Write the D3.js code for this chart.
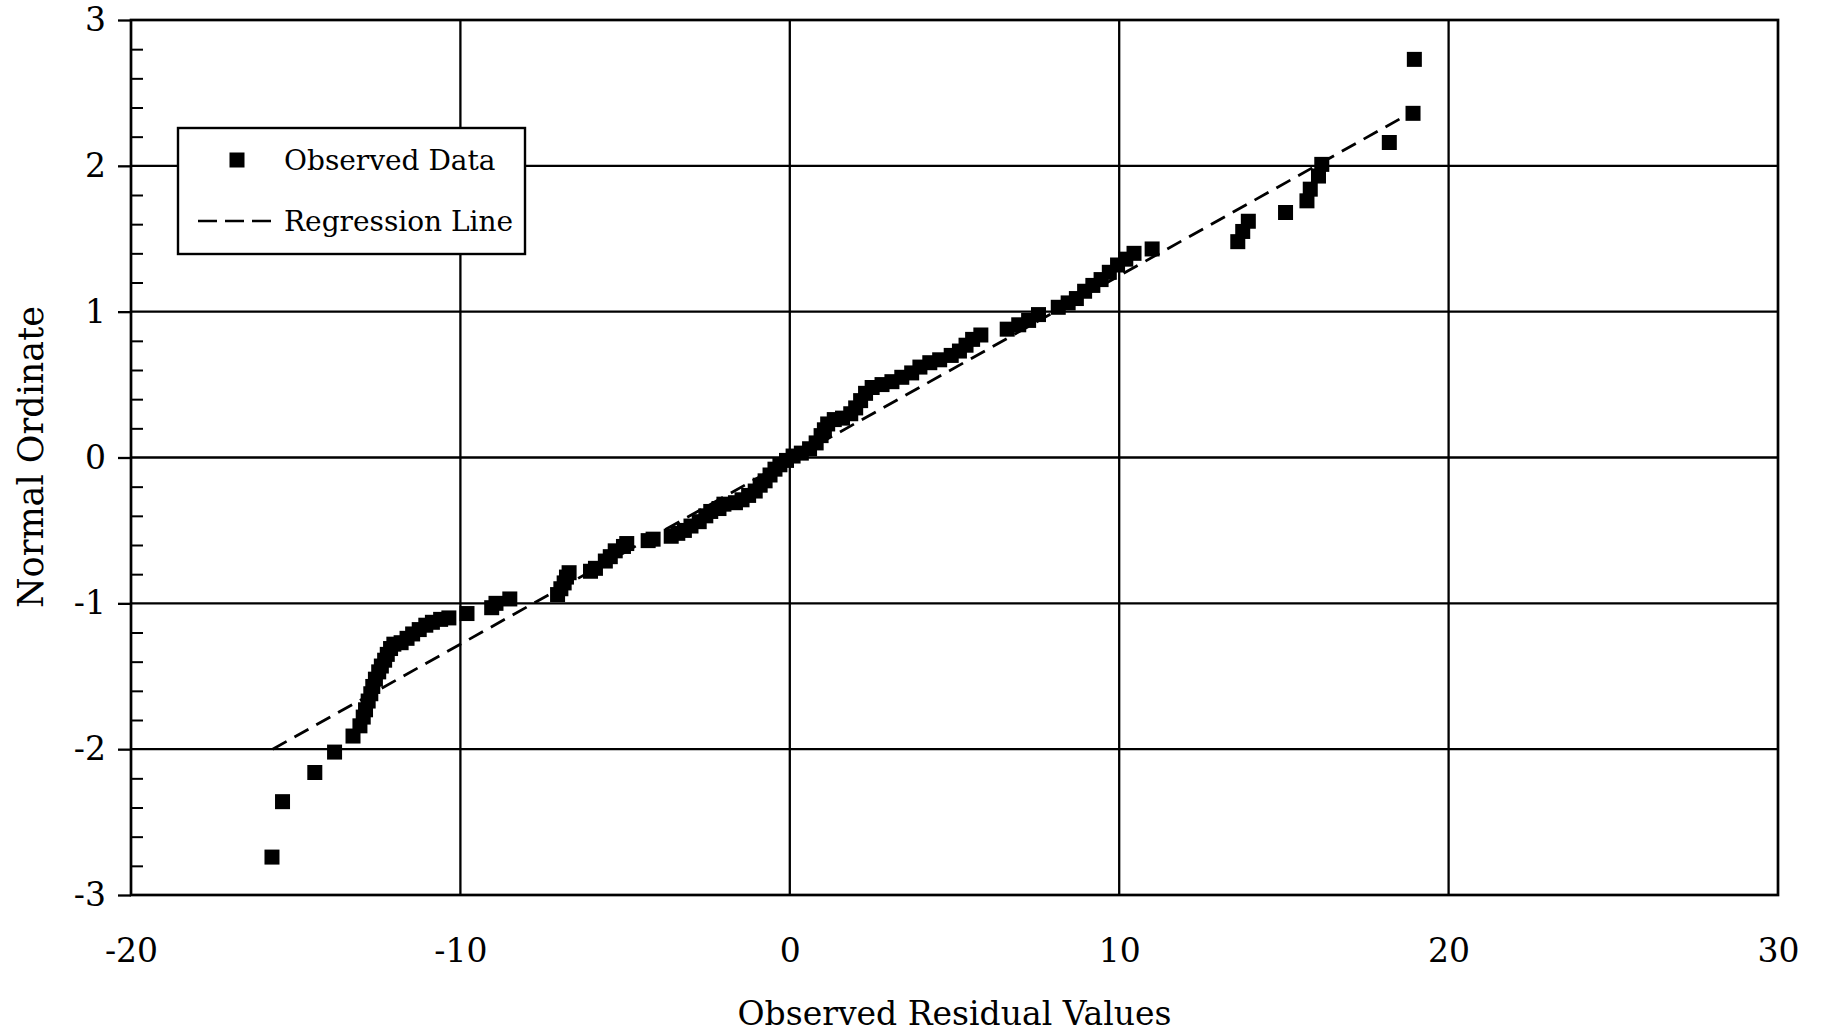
<!DOCTYPE html>
<html><head><meta charset="utf-8">
<script src="https://cdn.jsdelivr.net/npm/d3@7"></script>
<style>body{margin:0;background:#fff}svg{display:block}text{font-family:"DejaVu Serif",serif;fill:#000}</style>
</head><body>
<script>
const obsX = [-15.72,-15.40,-14.42,-13.82,-13.26,-13.05,-12.95,-12.88,-12.80,-12.72,-12.66,-12.58,-12.48,-12.40,-12.30,-12.22,-12.12,-12.02,-11.80,-11.62,-11.45,-11.25,-11.05,-10.85,-10.60,-10.35,-9.80,-9.05,-8.92,-8.50,-7.05,-6.95,-6.85,-6.78,-6.70,-6.05,-5.90,-5.60,-5.45,-5.30,-5.05,-4.95,-4.30,-4.15,-3.60,-3.40,-3.20,-3.00,-2.75,-2.55,-2.40,-2.15,-2.00,-1.65,-1.45,-1.25,-1.05,-0.90,-0.75,-0.60,-0.45,-0.30,-0.10,0.10,0.35,0.60,0.80,0.95,1.05,1.15,1.35,1.60,1.85,2.00,2.15,2.30,2.50,2.80,3.10,3.40,3.70,3.95,4.25,4.55,4.90,5.15,5.35,5.55,5.80,6.60,6.95,7.25,7.55,8.15,8.45,8.70,8.95,9.20,9.45,9.70,9.95,10.20,10.45,11.00,13.60,13.75,13.92,15.05,15.70,15.80,16.05,16.15,18.20,18.92,18.96];
const obsY = [-2.74,-2.36,-2.16,-2.02,-1.91,-1.84,-1.78,-1.73,-1.67,-1.62,-1.57,-1.52,-1.47,-1.43,-1.39,-1.35,-1.31,-1.28,-1.27,-1.24,-1.21,-1.18,-1.15,-1.13,-1.11,-1.10,-1.07,-1.03,-1.00,-0.97,-0.94,-0.90,-0.86,-0.82,-0.79,-0.78,-0.76,-0.71,-0.68,-0.64,-0.61,-0.59,-0.57,-0.56,-0.54,-0.52,-0.50,-0.47,-0.44,-0.40,-0.37,-0.35,-0.32,-0.31,-0.29,-0.26,-0.23,-0.19,-0.16,-0.12,-0.08,-0.05,-0.02,0.01,0.03,0.06,0.10,0.15,0.19,0.23,0.26,0.27,0.30,0.34,0.39,0.44,0.48,0.50,0.52,0.55,0.58,0.62,0.65,0.67,0.70,0.73,0.77,0.81,0.84,0.88,0.91,0.94,0.98,1.03,1.06,1.09,1.14,1.18,1.22,1.27,1.32,1.36,1.40,1.43,1.48,1.55,1.62,1.68,1.76,1.84,1.93,2.01,2.16,2.36,2.73];
const regX = [-15.7, 18.9];
const regY = [-2.0, 2.37];
const xTicks = [-20,-10,0,10,20,30];
const yTicks = [-3,-2,-1,0,1,2,3];
const yMinor = [-2.8,-2.6,-2.4,-2.2,-1.8,-1.6,-1.4,-1.2,-0.8,-0.6,-0.4,-0.2,0.2,0.4,0.6,0.8,1.2,1.4,1.6,1.8,2.2,2.4,2.6,2.8];
const legendLabels = ["Observed Data","Regression Line"];
const xTitle = "Observed Residual Values";
const yTitle = "Normal Ordinate";

const W=1822,H=1035, L=131,R=1778,T=20,B=895;
const svg=d3.select("body").append("svg").attr("width",W).attr("height",H);
const x=d3.scaleLinear().domain([-20,30]).range([L,R]);
const y=d3.scaleLinear().domain([-3,3]).range([B,T]);
const fmt=d=>String(d);

// grid
const g=svg.append("g");
g.selectAll(".vg").data(xTicks.slice(1,-1)).join("line")
 .attr("x1",d=>x(d)).attr("x2",d=>x(d)).attr("y1",T).attr("y2",B).attr("stroke","#000").attr("stroke-width",2.3);
g.selectAll(".hg").data(yTicks.slice(1,-1)).join("line")
 .attr("x1",L).attr("x2",R).attr("y1",d=>y(d)).attr("y2",d=>y(d)).attr("stroke","#000").attr("stroke-width",2.3);
svg.append("rect").attr("x",L).attr("y",T).attr("width",R-L).attr("height",B-T).attr("fill","none").attr("stroke","#000").attr("stroke-width",2.7);

// y axis
const ya=svg.append("g").attr("transform",`translate(${L},0)`)
 .call(d3.axisLeft(y).tickValues(yTicks).tickSize(13).tickPadding(12).tickFormat(fmt));
ya.select(".domain").remove();
ya.selectAll("line").attr("stroke-width",2.3);
ya.selectAll("text").style("font-family","DejaVu Serif").style("font-size","33px");
const ym=svg.append("g").attr("transform",`translate(${L},0)`)
 .call(d3.axisRight(y).tickValues(yMinor).tickSize(12).tickFormat(""));
ym.select(".domain").remove();
ym.selectAll("line").attr("stroke-width",2);

// x axis
const xa=svg.append("g").attr("transform",`translate(0,${B})`)
 .call(d3.axisBottom(x).tickValues(xTicks).tickSize(0).tickPadding(44).tickFormat(fmt));
xa.select(".domain").remove();
xa.selectAll("text").style("font-family","DejaVu Serif").style("font-size","33px");

// regression line
const reg=regX.map((v,i)=>[v,regY[i]]);
svg.append("path").datum(reg).attr("d",d3.line().x(d=>x(d[0])).y(d=>y(d[1])))
 .attr("stroke","#000").attr("stroke-width",2.8).attr("stroke-dasharray","16,9").attr("fill","none");

// points
const s=15;
svg.selectAll(".pt").data(obsX.map((v,i)=>[v,obsY[i]])).join("rect")
 .attr("x",d=>x(d[0])-s/2).attr("y",d=>y(d[1])-s/2).attr("width",s).attr("height",s).attr("fill","#000");

// legend
const lg=svg.append("g");
lg.append("rect").attr("x",178).attr("y",128).attr("width",347).attr("height",126).attr("fill","#fff").attr("stroke","#000").attr("stroke-width",2.4);
lg.append("rect").attr("x",237-s/2).attr("y",160-s/2).attr("width",s).attr("height",s).attr("fill","#000");
lg.append("line").attr("x1",198).attr("x2",272).attr("y1",221).attr("y2",221).attr("stroke","#000").attr("stroke-width",2.6).attr("stroke-dasharray","19,8");
lg.selectAll(".lt").data(legendLabels).join("text").attr("x",284).attr("y",(d,i)=>i?221:160)
 .attr("dy","0.35em").style("font-size","28px").text(d=>d);

// titles
svg.append("text").attr("x",(L+R)/2).attr("y",1013).attr("dy","0.35em").attr("text-anchor","middle").style("font-size","33px").text(xTitle);
svg.append("text").attr("transform","translate(31,457) rotate(-90)").attr("dy","0.35em").attr("text-anchor","middle").style("font-size","35px").text(yTitle);
</script>
</body></html>
